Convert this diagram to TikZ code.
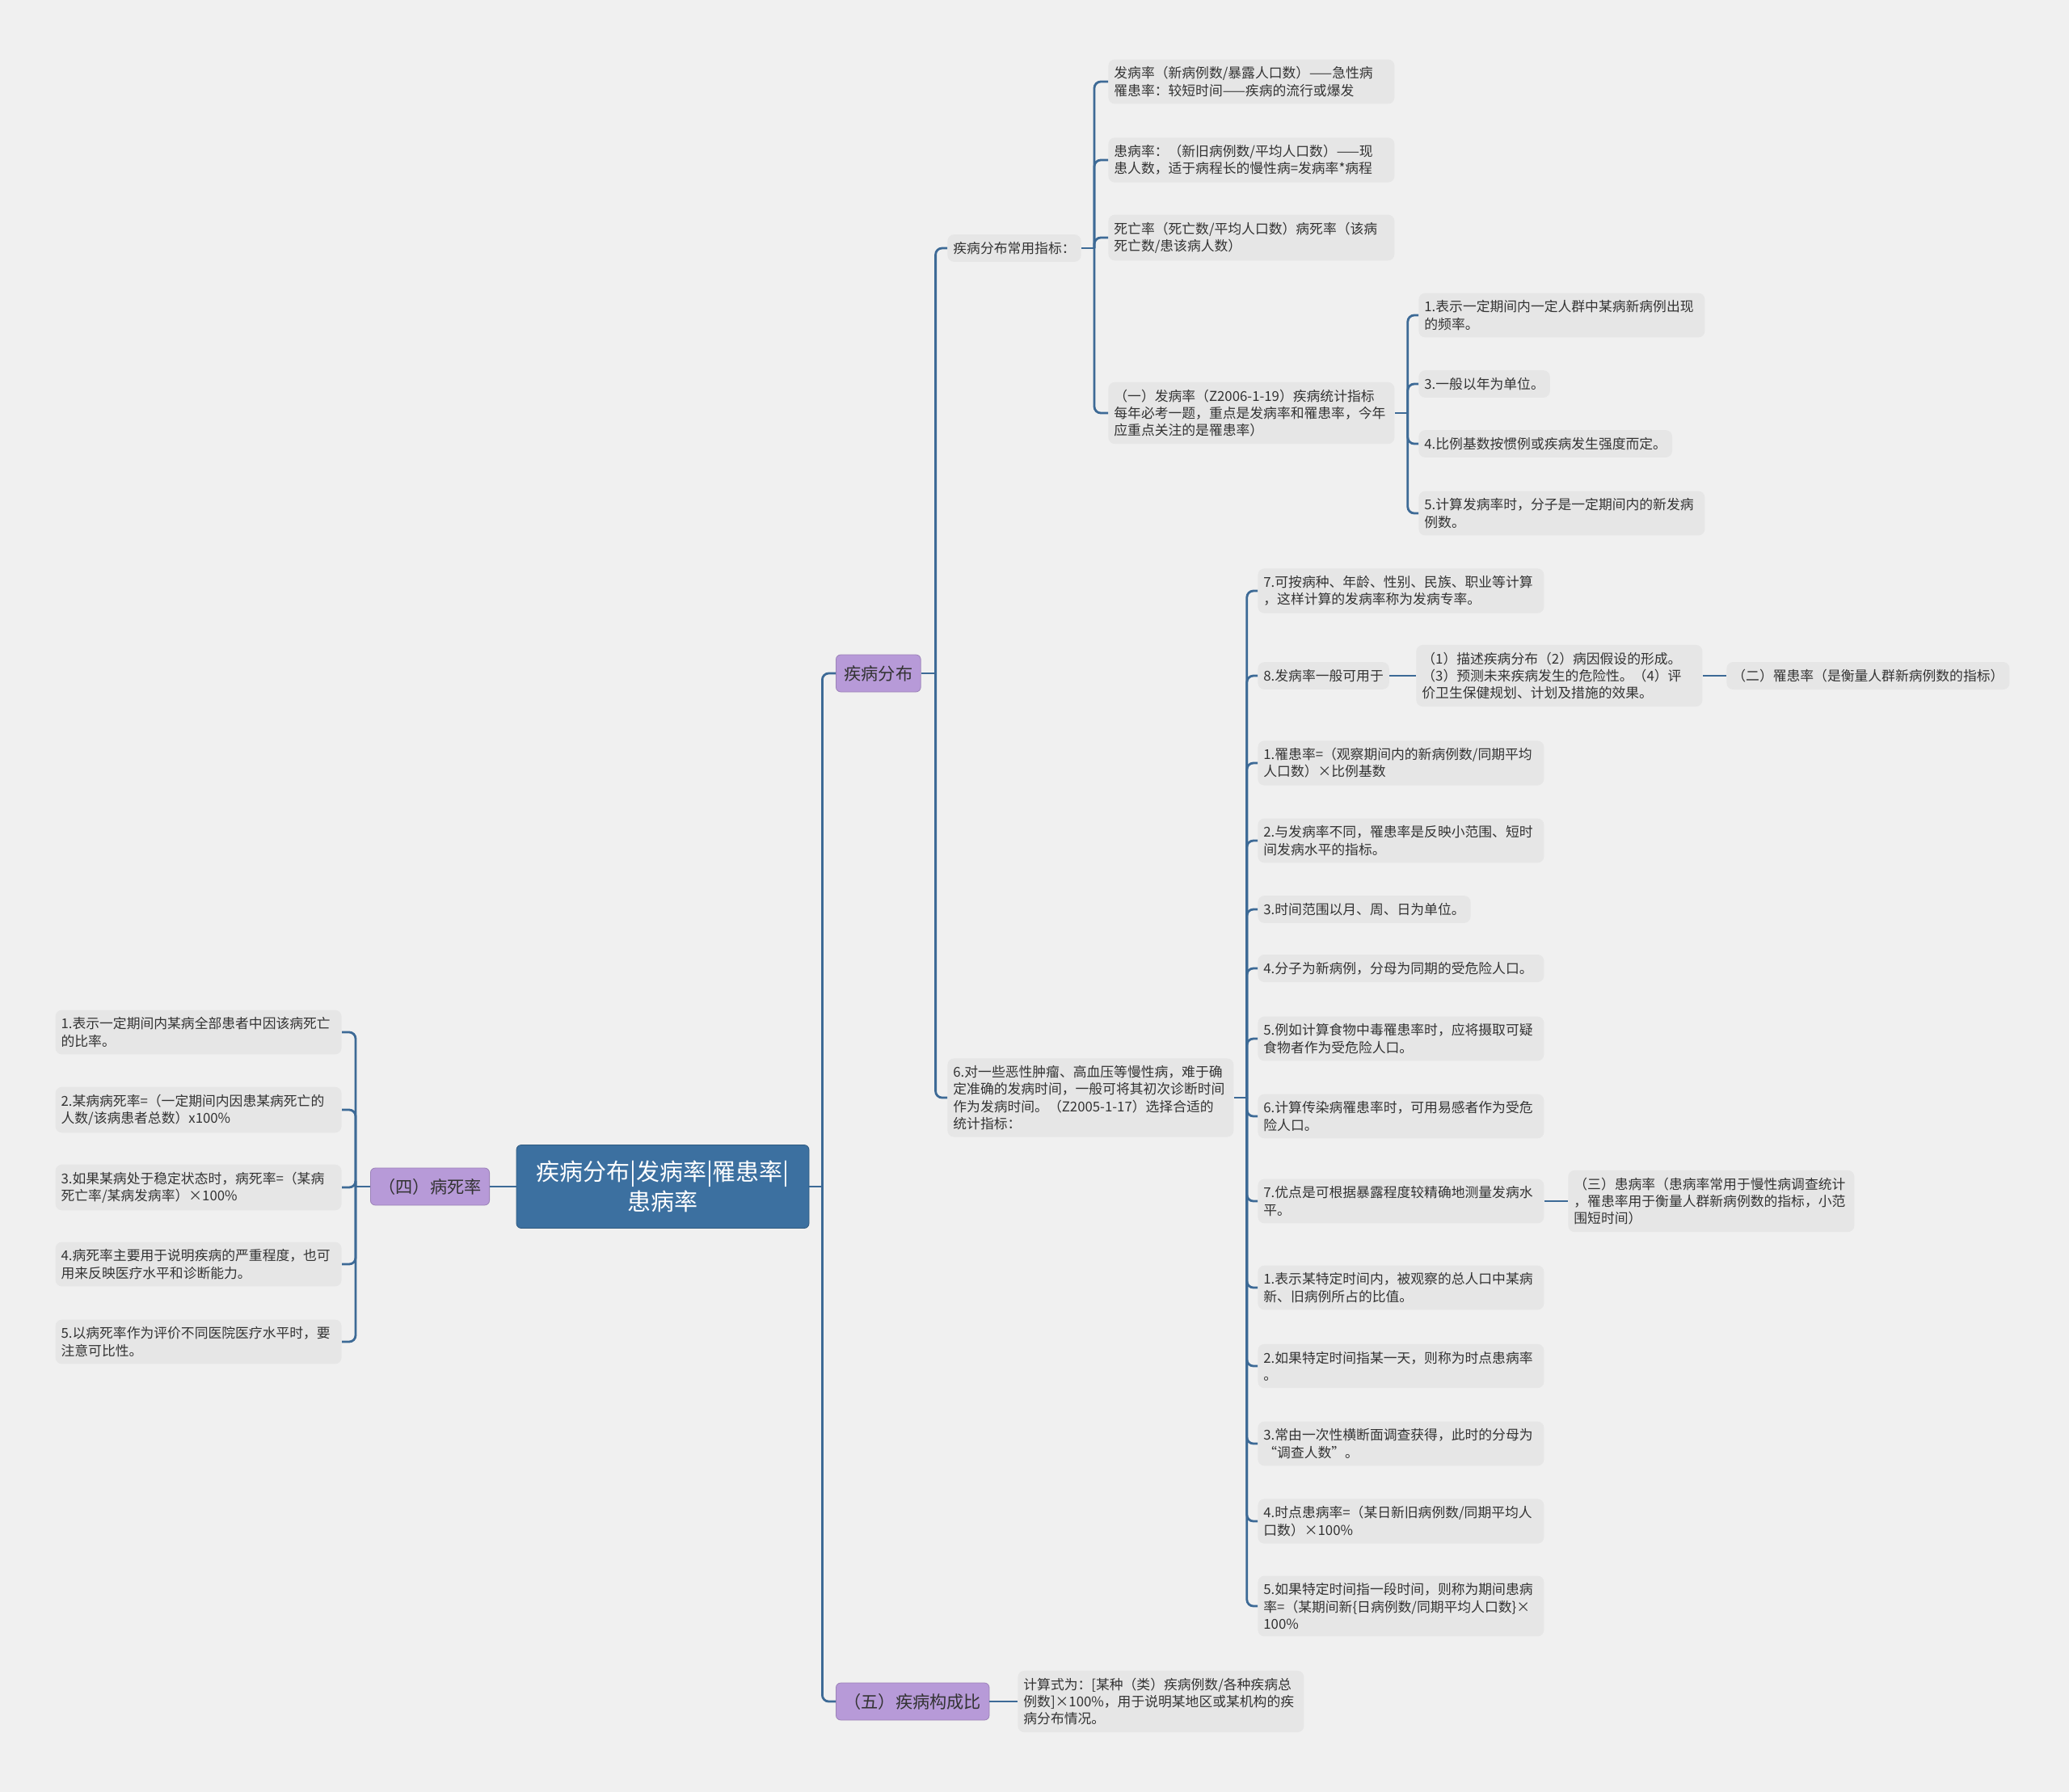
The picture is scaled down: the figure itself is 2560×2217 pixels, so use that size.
\documentclass[tikz,border=0pt]{standalone}
\usepackage{fontspec}
\setmainfont{Noto Sans CJK SC}
\usepackage{xcolor}

\definecolor{bgcol}{HTML}{F0F0F0}
\definecolor{linecol}{HTML}{3D6A96}
\definecolor{leafcol}{HTML}{E6E6E6}
\definecolor{topiccol}{HTML}{B79AD8}
\definecolor{rootcol}{HTML}{3C70A0}
\definecolor{txtcol}{HTML}{333333}

\begin{document}
\begin{tikzpicture}[x=0.5pt, y=-0.5pt,
    link/.style={draw=linecol, line width=1.4pt, rounded corners=4pt},
    leaf/.style={fill=leafcol, rounded corners=4pt, text=txtcol, align=left,
        inner xsep=3.5pt, inner ysep=4.5pt, font=\fontsize{8.4pt}{10.6pt}\selectfont},
    wide/.style={leaf, text width=170pt},
    topic/.style={fill=topiccol, draw=topiccol!85!black, rounded corners=3pt, text=txtcol,
        inner xsep=5pt, minimum height=23pt, font=\fontsize{10.6pt}{13pt}\selectfont},
    root/.style={fill=rootcol, draw=rootcol!80!black, rounded corners=3pt, text=white,
        align=center, minimum width=181pt, minimum height=51.5pt,
        font=\fontsize{14.5pt}{18.8pt}\selectfont}]

    % Page and background
    \fill[bgcol] (0,0) rectangle (2560,2217);
    \useasboundingbox (0,0) rectangle (2560,2217);

    % Central topic
    \node[root] (root) at (820,1468) {疾病分布|发病率|罹患率|\\患病率};

    % First level
    \node[topic, anchor=west] (dist) at (1034,833) {疾病分布};
    \node[topic, anchor=west] (comp) at (1034,2105) {（五）疾病构成比};
    \node[topic, anchor=east] (fatal) at (606,1468) {（四）病死率};

    \draw[link] (root.east) -- ++(16,0) coordinate (root-j);
    \draw[link] (root-j) |- (dist.west);
    \draw[link] (root-j) |- (comp.west);
    \draw[link] (root.west) -- (fatal.east);

    % (五) composition ratio
    \node[wide, anchor=west] (comp-txt) at (1259,2105)
        {计算式为：[某种（类）疾病例数/各种疾病总\\例数]×100\%，用于说明某地区或某机构的疾\\病分布情况。};
    \draw[link] (comp.east) -- (comp-txt.west);

    % (四) case fatality, list on the left
    \draw[link] (fatal.west) -- ++(-18,0) coordinate (fatal-j);
    \foreach \i/\y/\txt in {
        1/1277/{1.表示一定期间内某病全部患者中因该病死亡\\的比率。},
        2/1373/{2.某病病死率=（一定期间内因患某病死亡的\\人数/该病患者总数）x100\%},
        3/1469/{3.如果某病处于稳定状态时，病死率=（某病\\死亡率/某病发病率）×100\%},
        4/1564/{4.病死率主要用于说明疾病的严重程度，也可\\用来反映医疗水平和诊断能力。},
        5/1660/{5.以病死率作为评价不同医院医疗水平时，要\\注意可比性。}
    }
    {
        \node[wide, anchor=east] (fatal-\i) at (423,\y) {\txt};
        \draw[link] (fatal-j) |- (fatal-\i.east);
    }

    % 疾病分布 branch
    \draw[link] (dist.east) -- ++(18,0) coordinate (dist-j);
    \node[leaf, anchor=west] (idx) at (1172,307) {疾病分布常用指标：};
    \node[wide, anchor=west] (chron) at (1172,1358)
        {6.对一些恶性肿瘤、高血压等慢性病，难于确\\定准确的发病时间，一般可将其初次诊断时间\\作为发病时间。（Z2005-1-17）选择合适的\\统计指标：};
    \draw[link] (dist-j) |- (idx.west);
    \draw[link] (dist-j) |- (chron.west);

    % Common indices
    \draw[link] (idx.east) -- ++(16,0) coordinate (idx-j);
    \foreach \i/\y/\txt in {
        1/101/{发病率（新病例数/暴露人口数）——急性病\\罹患率：较短时间——疾病的流行或爆发},
        2/198/{患病率：（新旧病例数/平均人口数）——现\\患人数，适于病程长的慢性病=发病率*病程},
        3/294/{死亡率（死亡数/平均人口数）病死率（该病\\死亡数/患该病人数）}
    }
    {
        \node[wide, anchor=west] (idx-\i) at (1371,\y) {\txt};
        \draw[link] (idx-j) |- (idx-\i.west);
    }
    \node[wide, anchor=west] (inc) at (1371,511)
        {（一）发病率（Z2006-1-19）疾病统计指标\\每年必考一题，重点是发病率和罹患率，今年\\应重点关注的是罹患率）};
    \draw[link] (idx-j) |- (inc.west);

    % (一) incidence
    \draw[link] (inc.east) -- ++(16,0) coordinate (inc-j);
    \node[wide, anchor=west] (inc-1) at (1755,390) {1.表示一定期间内一定人群中某病新病例出现\\的频率。};
    \node[leaf, anchor=west] (inc-2) at (1755,475) {3.一般以年为单位。};
    \node[leaf, anchor=west] (inc-3) at (1755,549) {4.比例基数按惯例或疾病发生强度而定。};
    \node[wide, anchor=west] (inc-4) at (1755,635) {5.计算发病率时，分子是一定期间内的新发病\\例数。};
    \foreach \i in {1,...,4}
        \draw[link] (inc-j) |- (inc-\i.west);

    % Statistical indices for chronic diseases
    \draw[link] (chron.east) -- ++(16,0) coordinate (chron-j);
    \foreach \i/\y/\txt in {
        1/731/{7.可按病种、年龄、性别、民族、职业等计算\\，这样计算的发病率称为发病专率。},
        3/944/{1.罹患率=（观察期间内的新病例数/同期平均\\人口数）×比例基数},
        4/1040/{2.与发病率不同，罹患率是反映小范围、短时\\间发病水平的指标。},
        6/1198/{4.分子为新病例，分母为同期的受危险人口。},
        7/1285/{5.例如计算食物中毒罹患率时，应将摄取可疑\\食物者作为受危险人口。},
        8/1381/{6.计算传染病罹患率时，可用易感者作为受危\\险人口。},
        9/1486/{7.优点是可根据暴露程度较精确地测量发病水\\平。},
        10/1593/{1.表示某特定时间内，被观察的总人口中某病\\新、旧病例所占的比值。},
        11/1690/{2.如果特定时间指某一天，则称为时点患病率\\。},
        12/1786/{3.常由一次性横断面调查获得，此时的分母为\\“调查人数”。},
        13/1882/{4.时点患病率=（某日新旧病例数/同期平均人\\口数）×100\%},
        14/1987/{5.如果特定时间指一段时间，则称为期间患病\\率=（某期间新\{日病例数/同期平均人口数\}×\\100\%}
    }
    {
        \node[wide, anchor=west] (chron-\i) at (1556,\y) {\txt};
    }
    \node[leaf, anchor=west] (chron-2) at (1556,836) {8.发病率一般可用于};
    \node[leaf, anchor=west] (chron-5) at (1556,1125) {3.时间范围以月、周、日为单位。};
    \foreach \i in {1,...,14}
        \draw[link] (chron-j) |- (chron-\i.west);

    % Uses of incidence, attack rate
    \node[wide, anchor=west] (use) at (1752,836)
        {（1）描述疾病分布（2）病因假设的形成。\\（3）预测未来疾病发生的危险性。（4）评\\价卫生保健规划、计划及措施的效果。};
    \node[leaf, anchor=west] (attack) at (2136,836) {（二）罹患率（是衡量人群新病例数的指标）};
    \draw[link] (chron-2.east) -- (use.west);
    \draw[link] (use.east) -- (attack.west);

    % Prevalence
    \node[wide, anchor=west] (prev) at (1940,1486)
        {（三）患病率（患病率常用于慢性病调查统计\\，罹患率用于衡量人群新病例数的指标，小范\\围短时间）};
    \draw[link] (chron-9.east) -- (prev.west);

\end{tikzpicture}
\end{document}
